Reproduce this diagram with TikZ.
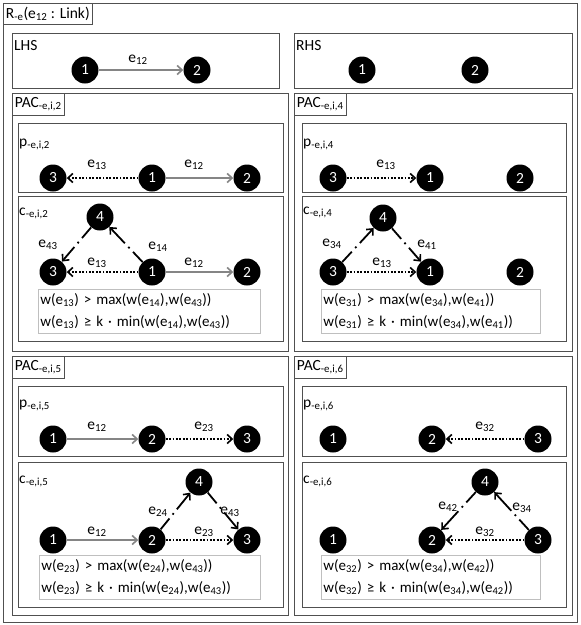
\documentclass[tikz,border=0pt]{standalone}
\usepackage{fontspec}
\setmainfont{Carlito}
\usetikzlibrary{arrows.meta}
\definecolor{boxgray}{HTML}{505050}
\definecolor{edgegray}{HTML}{858585}
\definecolor{condgray}{HTML}{BFBFBF}
\newcommand\sbs[1]{\textsubscript{#1}}
\newcommand\txtfont{\fontsize{15.5}{22}\selectfont}
\newcommand\condfont{\fontsize{15}{22}\selectfont}
\begin{document}
\begin{tikzpicture}[x=1pt,y=-1pt,
  frame/.style={draw=boxgray, line width=0.8pt},
  title/.style={draw=boxgray, fill=white, line width=0.8pt, anchor=north west, inner xsep=2.5pt, inner ysep=0pt, minimum height=22pt, font=\txtfont},
  tag/.style={anchor=base west, inner sep=0pt, font=\txtfont},
  vtx/.style={circle, fill=black, text=white, minimum size=27pt, inner sep=0pt, font=\txtfont},
  lab/.style={inner sep=0pt, font=\txtfont},
  cond/.style={draw=condgray, line width=0.8pt, anchor=north west, align=left, inner xsep=2pt, inner ysep=3pt, minimum height=44pt, font=\condfont},
  tip/.style={-{Straight Barb[length=5pt,width=9pt,line width=1.6pt]}},
  ge/.style={draw=edgegray, line width=1.8pt, tip},
  de/.style={draw=black, line width=1.8pt, dash pattern=on 1.8pt off 1.6pt, tip},
  dd/.style={draw=black, line width=1.8pt, dash pattern=on 14pt off 5pt on 1.8pt off 5pt on 80pt off 1pt, tip}
]
\useasboundingbox (0,0) rectangle (581,625);
\fill[white] (0,0) rectangle (581,625);
% outer frame
\draw[frame] (3,3) rectangle (577,622);
\node[title, minimum height=21pt] (tR) at (3,3) {R\sbs{-e}(e\sbs{12} : Link)};

% LHS
\draw[frame] (12,33) rectangle (279,88);
\node[tag] (tLHS) at (14,50) {LHS};
\node[vtx] (L1) at (85,70) {1};
\node[vtx] (L2) at (197,70) {2};
\draw[ge] (L1) -- (L2);
\node[lab] (lL12) at (138,60) {e\sbs{12}};

% RHS
\draw[frame] (294,33) rectangle (572,88);
\node[tag] (tRHS) at (296,50) {RHS};
\node[vtx] (R1) at (362,70) {1};
\node[vtx] (R2) at (475,70) {2};

% ---------- PAC 2 ----------
\draw[frame] (12,93) rectangle (288,351);
\node[title] (tP2) at (12,93) {PAC\sbs{-e,i,2}};
\draw[frame] (18,123) rectangle (283,192);
\node[tag] (tp2) at (19,146) {p\sbs{-e,i,2}};
\node[vtx] (a3) at (53,178) {3};
\node[vtx] (a1) at (152,178) {1};
\node[vtx] (a2) at (247,178) {2};
\draw[de] (a1) -- (a3);
\draw[ge] (a1) -- (a2);
\node[lab] (la13) at (97,165) {e\sbs{13}};
\node[lab] (la12) at (194,165) {e\sbs{12}};
\draw[frame] (18,196) rectangle (283,341);
\node[tag] (tc2) at (19,215) {c\sbs{-e,i,2}};
\node[vtx] (b4) at (100,217) {4};
\node[vtx] (b3) at (53,272) {3};
\node[vtx] (b1) at (152,272) {1};
\node[vtx] (b2) at (247,272) {2};
\draw[dd] (b4) -- (b3);
\draw[dd] (b1) -- (b4);
\draw[de] (b1) -- (b3);
\draw[ge] (b1) -- (b2);
\node[lab] (lb43) at (48,245) {e\sbs{43}};
\node[lab] (lb14) at (158,247) {e\sbs{14}};
\node[lab] (lb13) at (97,263) {e\sbs{13}};
\node[lab] (lb12) at (194,263) {e\sbs{12}};
\node[cond, text width=218pt] (cd2) at (38,289) {w(e\sbs{13}) > max(w(e\sbs{14}),w(e\sbs{43}))\\w(e\sbs{13}) ≥ k · min(w(e\sbs{14}),w(e\sbs{43}))};

% ---------- PAC 4 ----------
\draw[frame] (294,93) rectangle (572,351);
\node[title] (tP4) at (294,93) {PAC\sbs{-e,i,4}};
\draw[frame] (302,123) rectangle (566,192);
\node[tag] (tp4) at (303,146) {p\sbs{-e,i,4}};
\node[vtx] (d3) at (333,178) {3};
\node[vtx] (d1) at (430,178) {1};
\node[vtx] (d2) at (520,178) {2};
\draw[de] (d3) -- (d1);
\node[lab] (ld13) at (386,165) {e\sbs{13}};
\draw[frame] (302,196) rectangle (566,341);
\node[tag] (tc4) at (303,214) {c\sbs{-e,i,4}};
\node[vtx] (f4) at (383,218) {4};
\node[vtx] (f3) at (333,272) {3};
\node[vtx] (f1) at (430,272) {1};
\node[vtx] (f2) at (520,272) {2};
\draw[dd] (f3) -- (f4);
\draw[dd] (f4) -- (f1);
\draw[de] (f3) -- (f1);
\node[lab] (lf34) at (332,244) {e\sbs{34}};
\node[lab] (lf41) at (427,245) {e\sbs{41}};
\node[lab] (lf13) at (382,263) {e\sbs{13}};
\node[cond, text width=215pt] (cd4) at (321,289) {w(e\sbs{31}) > max(w(e\sbs{34}),w(e\sbs{41}))\\w(e\sbs{31}) ≥ k · min(w(e\sbs{34}),w(e\sbs{41}))};

% ---------- PAC 5 ----------
\draw[frame] (12,356) rectangle (288,615);
\node[title] (tP5) at (12,356) {PAC\sbs{-e,i,5}};
\draw[frame] (18,386) rectangle (283,456);
\node[tag] (tp5) at (19,407) {p\sbs{-e,i,5}};
\node[vtx] (g1) at (53,439) {1};
\node[vtx] (g2) at (152,439) {2};
\node[vtx] (g3) at (247,439) {3};
\draw[ge] (g1) -- (g2);
\draw[de] (g2) -- (g3);
\node[lab] (lg12) at (97,427) {e\sbs{12}};
\node[lab] (lg23) at (204,427) {e\sbs{23}};
\draw[frame] (18,462) rectangle (283,607);
\node[tag] (tc5) at (19,483) {c\sbs{-e,i,5}};
\node[vtx] (h4) at (199,482) {4};
\node[vtx] (h1) at (53,540) {1};
\node[vtx] (h2) at (152,540) {2};
\node[vtx] (h3) at (247,540) {3};
\draw[ge] (h1) -- (h2);
\draw[de] (h2) -- (h3);
\draw[dd] (h2) -- (h4);
\draw[dd] (h4) -- (h3);
\node[lab] (lh24) at (158,512) {e\sbs{24}};
\node[lab] (lh43) at (230,512) {e\sbs{43}};
\node[lab] (lh12) at (97,532) {e\sbs{12}};
\node[lab] (lh23) at (204,532) {e\sbs{23}};
\node[cond, text width=217pt] (cd5) at (39,555) {w(e\sbs{23}) > max(w(e\sbs{24}),w(e\sbs{43}))\\w(e\sbs{23}) ≥ k · min(w(e\sbs{24}),w(e\sbs{43}))};

% ---------- PAC 6 ----------
\draw[frame] (294,356) rectangle (572,615);
\node[title] (tP6) at (294,356) {PAC\sbs{-e,i,6}};
\draw[frame] (302,386) rectangle (566,456);
\node[tag] (tp6) at (303,407) {p\sbs{-e,i,6}};
\node[vtx] (m1) at (333,439) {1};
\node[vtx] (m2) at (432,439) {2};
\node[vtx] (m3) at (538,439) {3};
\draw[de] (m3) -- (m2);
\node[lab] (lm32) at (485,427) {e\sbs{32}};
\draw[frame] (302,462) rectangle (566,607);
\node[tag] (tc6) at (303,483) {c\sbs{-e,i,6}};
\node[vtx] (n4) at (485,482) {4};
\node[vtx] (n1) at (333,540) {1};
\node[vtx] (n2) at (432,540) {2};
\node[vtx] (n3) at (538,540) {3};
\draw[dd] (n4) -- (n2);
\draw[dd] (n3) -- (n4);
\draw[de] (n3) -- (n2);
\node[lab] (ln42) at (448,507) {e\sbs{42}};
\node[lab] (ln34) at (522,508) {e\sbs{34}};
\node[lab] (ln32) at (485,532) {e\sbs{32}};
\node[cond, text width=215pt] (cd6) at (321,555) {w(e\sbs{32}) > max(w(e\sbs{34}),w(e\sbs{42}))\\w(e\sbs{32}) ≥ k · min(w(e\sbs{34}),w(e\sbs{42}))};
\end{tikzpicture}
\end{document}
